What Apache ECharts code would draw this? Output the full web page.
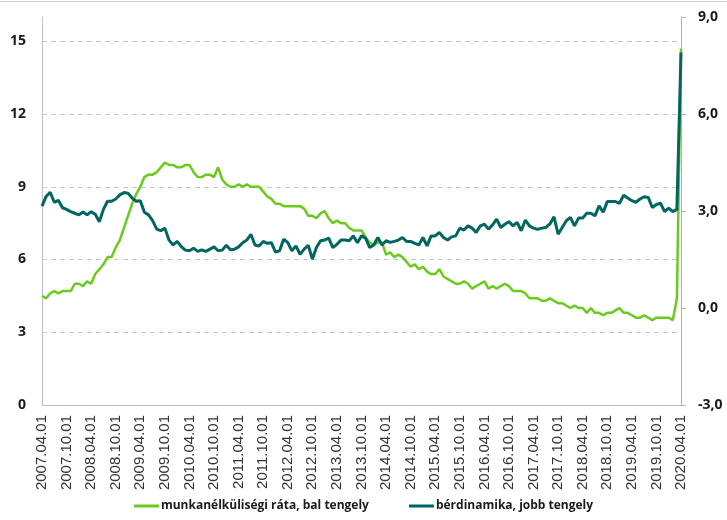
<!DOCTYPE html>
<html>
<head>
<meta charset="utf-8">
<script src="https://cdn.jsdelivr.net/npm/echarts@6/dist/echarts.min.js"></script>
<style>
html,body{margin:0;padding:0;background:#fff;}
#chart{width:727px;height:520px;}
</style>
</head>
<body>
<div id="chart"></div>
<script>
// Monthly categories 2007.04.01 .. 2020.04.01
const startYear = 2007, startMonth = 4, monthCount = 157;
const categories = [];
for (let k = 0; k < monthCount; k++) {
  const m = startMonth - 1 + k;
  const y = startYear + Math.floor(m / 12);
  const mm = (m % 12) + 1;
  categories.push(y + '.' + (mm < 10 ? '0' : '') + mm + '.01');
}

// munkanélküliségi ráta (left axis), %
const unemployment = [
  4.5, 4.4, 4.6, 4.7, 4.6, 4.7, 4.7, 4.7, 5.0,
  5.0, 4.9, 5.1, 5.0, 5.4, 5.6, 5.8, 6.1, 6.1, 6.5, 6.8, 7.3,
  7.8, 8.3, 8.7, 9.0, 9.4, 9.5, 9.5, 9.6, 9.8, 10.0, 9.9, 9.9,
  9.8, 9.8, 9.9, 9.9, 9.6, 9.4, 9.4, 9.5, 9.5, 9.4, 9.8, 9.3,
  9.1, 9.0, 9.0, 9.1, 9.0, 9.1, 9.0, 9.0, 9.0, 8.8, 8.6, 8.5,
  8.3, 8.3, 8.2, 8.2, 8.2, 8.2, 8.2, 8.1, 7.8, 7.8, 7.7, 7.9,
  8.0, 7.7, 7.5, 7.6, 7.5, 7.5, 7.3, 7.2, 7.2, 7.2, 6.9, 6.7,
  6.6, 6.7, 6.7, 6.2, 6.3, 6.1, 6.2, 6.1, 5.9, 5.7, 5.8, 5.6,
  5.7, 5.5, 5.4, 5.4, 5.6, 5.3, 5.2, 5.1, 5.0, 5.0, 5.1, 5.0,
  4.8, 4.9, 5.0, 5.1, 4.8, 4.9, 4.8, 4.9, 5.0, 4.9, 4.7, 4.7,
  4.7, 4.6, 4.4, 4.4, 4.4, 4.3, 4.3, 4.4, 4.3, 4.2, 4.2, 4.1,
  4.0, 4.1, 4.0, 4.0, 3.8, 4.0, 3.8, 3.8, 3.7, 3.8, 3.8, 3.9,
  4.0, 3.8, 3.8, 3.7, 3.6, 3.6, 3.7, 3.6, 3.5, 3.6, 3.6, 3.6,
  3.6, 3.5, 4.4, 14.7
];

// bérdinamika (right axis), %
const wageGrowth = [
  3.15, 3.45, 3.58, 3.27, 3.33, 3.10, 3.05, 2.98, 2.93,
  2.88, 2.97, 2.88, 2.98, 2.90, 2.67, 3.05, 3.30, 3.30, 3.37, 3.50, 3.57,
  3.55, 3.40, 3.30, 3.32, 2.96, 2.88, 2.70, 2.44, 2.39, 2.47, 2.10, 1.95,
  2.06, 1.90, 1.79, 1.77, 1.85, 1.75, 1.80, 1.75, 1.82, 1.89, 1.77, 1.79,
  1.94, 1.80, 1.82, 1.89, 2.02, 2.10, 2.28, 1.95, 1.92, 2.06, 2.00, 2.02,
  1.73, 1.77, 2.13, 2.02, 1.77, 1.92, 1.66, 1.82, 1.94, 1.51, 1.87, 2.08,
  2.10, 2.16, 1.87, 1.97, 2.10, 2.10, 2.08, 2.23, 2.02, 2.23, 2.16, 1.87,
  1.95, 2.18, 1.95, 2.08, 2.03, 2.06, 2.10, 2.18, 2.06, 2.06, 2.00, 1.95,
  2.18, 1.92, 2.23, 2.23, 2.34, 2.18, 2.10, 2.20, 2.23, 2.47, 2.41, 2.54,
  2.47, 2.34, 2.54, 2.59, 2.44, 2.57, 2.75, 2.49, 2.59, 2.67, 2.54, 2.65,
  2.39, 2.72, 2.54, 2.47, 2.43, 2.47, 2.49, 2.60, 2.82, 2.28, 2.49, 2.70,
  2.80, 2.54, 2.78, 2.78, 2.93, 2.93, 2.85, 3.16, 2.96, 3.29, 3.29, 3.29,
  3.24, 3.49, 3.40, 3.32, 3.27, 3.37, 3.44, 3.42, 3.11, 3.20, 3.24, 2.98,
  3.09, 2.98, 3.05, 7.90
];

const seriesNames = ['munkanélküliségi ráta, bal tengely', 'bérdinamika, jobb tengely'];
const colors = ['#6ACB1E', '#00665F'];

const chart = echarts.init(document.getElementById('chart'), null, {renderer: 'canvas'});
const labelFont = '"Open Sans", "Liberation Sans", sans-serif';

chart.setOption({
  animation: false,
  backgroundColor: '#ffffff',
  graphic: [{
    type: 'line', shape: {x1: 0, y1: 1.5, x2: 727, y2: 1.5},
    style: {stroke: '#cfcfcf', lineWidth: 1}
  }],
  grid: {left: 42, right: 46, top: 17, bottom: 115, containLabel: false},
  legend: {
    bottom: 3,
    left: 'center',
    itemGap: 40,
    itemWidth: 25,
    itemHeight: 3,
    icon: 'rect',
    textStyle: {fontFamily: labelFont, fontWeight: 'bold', fontSize: 12, color: '#1a1a1a', padding: [0, 0, 0, -3]},
    data: seriesNames
  },
  xAxis: {
    type: 'category',
    data: categories,
    boundaryGap: false,
    axisLine: {show: true, lineStyle: {color: '#c0c0c0', width: 1}},
    axisTick: {show: false},
    axisLabel: {
      interval: 5,
      rotate: 90,
      margin: 10,
      fontFamily: '"Liberation Sans", Arial, sans-serif',
      fontSize: 15,
      color: '#333333'
    },
    splitLine: {show: false}
  },
  yAxis: [{
    type: 'value',
    min: 0, max: 16, interval: 3,
    position: 'left',
    axisLine: {show: true, lineStyle: {color: '#c0c0c0', width: 1}},
    axisTick: {show: false},
    axisLabel: {
      margin: 16,
      fontFamily: labelFont, fontWeight: 'bold', fontSize: 14, color: '#1a1a1a',
      formatter: v => (v > 15 ? '' : String(v))
    },
    splitLine: {show: true, showMaxLine: false, showMinLine: false, lineStyle: {color: '#c8c8c8', type: [5, 4], width: 1}}
  }, {
    type: 'value',
    min: -3, max: 9, interval: 3,
    position: 'right',
    axisLine: {show: true, lineStyle: {color: '#b0b0b0', width: 1}},
    axisTick: {show: true, inside: false, length: 5, lineStyle: {color: '#b0b0b0'}},
    axisLabel: {
      margin: 17,
      fontFamily: labelFont, fontWeight: 'bold', fontSize: 14, color: '#1a1a1a',
      formatter: v => v.toFixed(1).replace('.', ',')
    },
    splitLine: {show: false}
  }],
  series: [{
    name: seriesNames[0],
    type: 'line',
    yAxisIndex: 0,
    data: unemployment,
    showSymbol: false,
    symbol: 'none',
    color: colors[0],
    lineStyle: {color: colors[0], width: 2.5}
  }, {
    name: seriesNames[1],
    type: 'line',
    yAxisIndex: 1,
    data: wageGrowth,
    showSymbol: false,
    symbol: 'none',
    color: colors[1],
    lineStyle: {color: colors[1], width: 3}
  }]
});
</script>
</body>
</html>
